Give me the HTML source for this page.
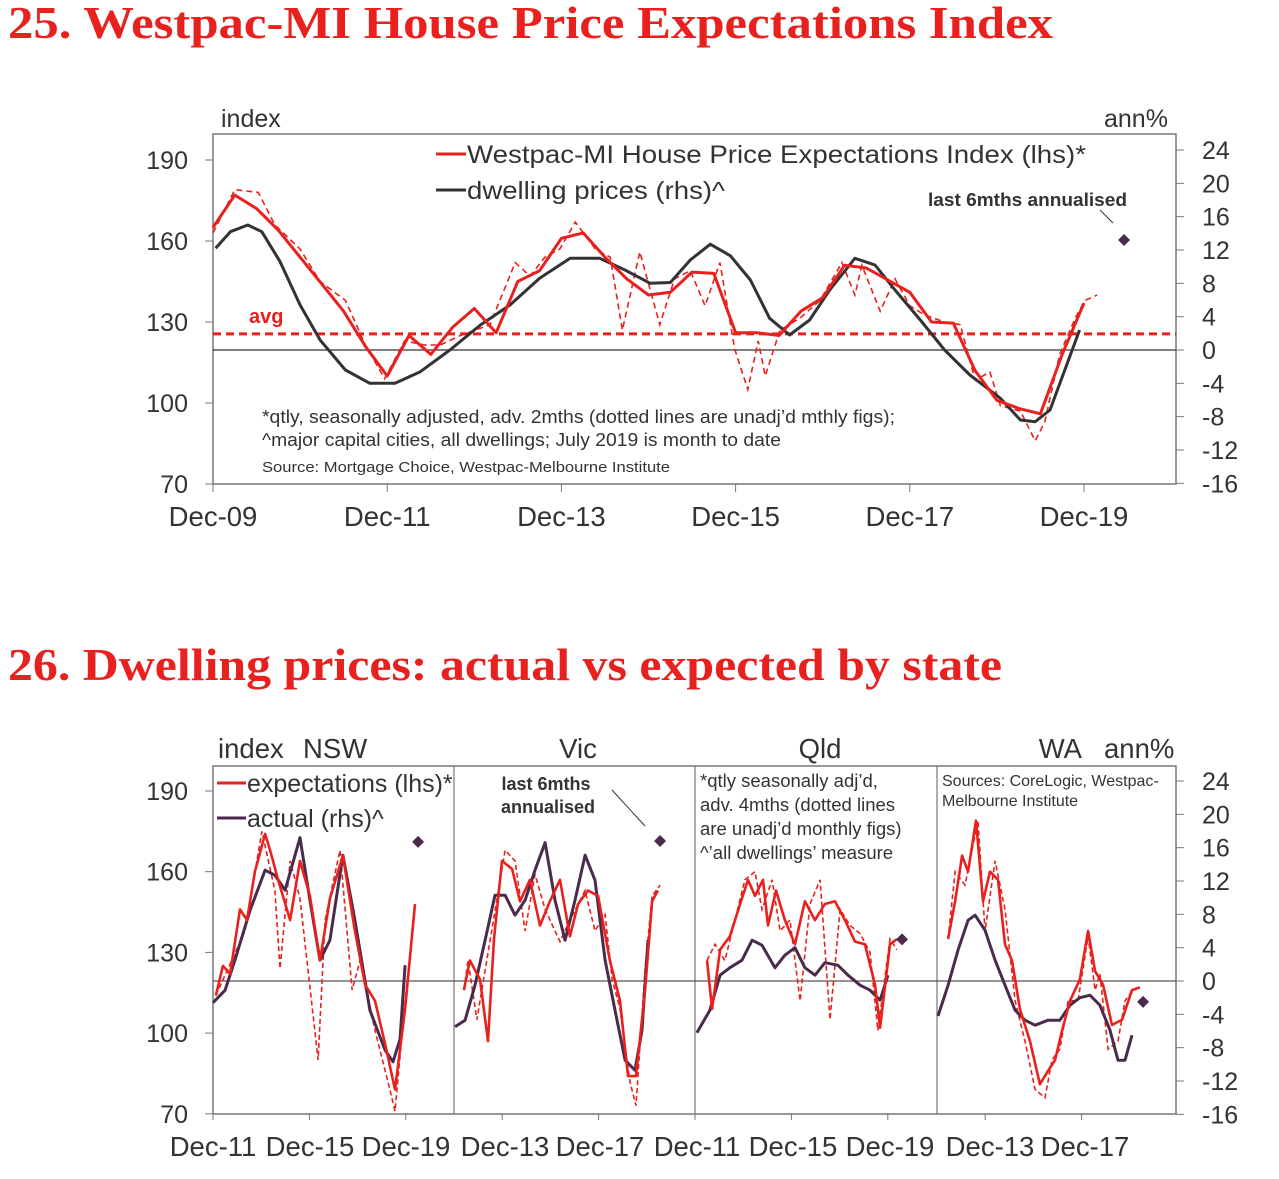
<!DOCTYPE html>
<html><head><meta charset="utf-8"><style>
html,body{margin:0;padding:0;background:#fff;}
svg{display:block;font-family:"Liberation Sans",sans-serif;}
.ttl{font-family:"Liberation Serif",serif;font-weight:bold;fill:#e8211e;font-size:46px;}
.ax{font-size:25px;fill:#333;}
.xl{font-size:27.5px;fill:#333;}
</style></head><body>
<svg id="s" width="1279" height="1179" viewBox="0 0 1279 1179">
<text class="ttl" x="8" y="38" textLength="1045" lengthAdjust="spacingAndGlyphs">25. Westpac-MI House Price Expectations Index</text>
<text class="ttl" x="8" y="680" textLength="994" lengthAdjust="spacingAndGlyphs">26. Dwelling prices: actual vs expected by state</text>
<g id="c1"></g>
<g id="c2"></g>
</svg>
<script>
// ---------- Chart 25 data (time = years since Dec-09) ----------
const c1XLabels=["Dec-09","Dec-11","Dec-13","Dec-15","Dec-17","Dec-19"];
const c1LeftTicks=[70,100,130,160,190];
const c1RightTicks=[-16,-12,-8,-4,0,4,8,12,16,20,24];
const idxT=[0,.25,.5,.75,1,1.25,1.5,1.75,2,2.25,2.5,2.75,3,3.25,3.5,3.75,4,4.25,4.5,4.75,5,5.25,5.5,5.75,6,6.25,6.5,6.75,7,7.25,7.5,7.75,8,8.25,8.5,8.75,9,9.25,9.5,9.75,10];
const idxV=[165,177,172,164,154,144,134,121,110,125,118,128,135,126,145,149,161,163,154,146,140,141,148.5,148,126,126,125,134,139,151,150,145.5,141,130,129.6,112,101,98,96,118,137];
const idxMT=[0,.25,.52,.71,1,1.23,1.52,1.75,1.97,2.2,2.43,2.61,2.84,3.18,3.47,3.64,3.81,3.98,4.16,4.39,4.56,4.7,4.9,5.13,5.3,5.48,5.65,5.82,5.99,6.14,6.26,6.34,6.51,6.74,6.97,7.22,7.37,7.45,7.66,7.83,8,8.17,8.4,8.58,8.75,8.92,9.04,9.27,9.44,9.55,9.72,9.9,10.01,10.15];
const idxMV=[163,179,178,166,157,145,138,121.5,109,123,121.5,121.5,125,129,152,147,154,157,167,157,154,127,156,129,146,149,136,152,120,105,123,110,127,131.5,138,152,140,151,134,146,136,132.6,130,129,108.5,111.5,99,97,86,93,118,131.5,138,140];
const dpT=[.03,.2,.4,.56,.77,1,1.23,1.52,1.8,2.09,2.38,2.72,3.07,3.41,3.75,4.1,4.44,4.73,5.02,5.25,5.48,5.71,5.94,6.17,6.39,6.62,6.85,7.08,7.37,7.6,7.83,8.12,8.4,8.69,9.04,9.27,9.44,9.61,9.78,9.95];
const dpV=[12.2,14.2,15,14.2,10.6,5.4,1.2,-2.4,-4,-4,-2.6,0,3,5.4,8.6,11,11,9.6,8,8.1,10.8,12.7,11.3,8.4,3.8,1.8,3.6,7.2,11,10.2,7.2,3.6,0,-3,-5.8,-8.4,-8.6,-7.2,-2.4,2.4];
const avgIdx=[125.6];
const last6T=[10.46], last6V=[13.2];

// ---------- Chart 26 data (time = years since Dec-11 within each panel) ----------
const states=["NSW","Vic","Qld","WA"];
const c2XLabels=[["Dec-11","Dec-15","Dec-19"],["Dec-13","Dec-17"],["Dec-11","Dec-15","Dec-19"],["Dec-13","Dec-17"]];
const c2XLabelT=[[0,4,8],[2,6],[0,4,8],[2,6]];
const expT=[
[.12,.41,.71,1.12,1.41,1.74,2.16,2.37,2.7,3.2,3.61,4.02,4.44,4.85,5.39,5.89,6.31,6.72,7.14,7.55,7.97,8.38],
[.41,.66,1.08,1.41,1.66,1.99,2.41,2.74,3.15,3.57,3.98,4.4,4.81,5.15,5.56,5.98,6.47,6.89,7.22,7.55,7.93,8.22,8.46],
[.5,.71,1.04,1.45,1.87,2.2,2.49,2.82,3.03,3.36,3.73,4.15,4.56,4.98,5.39,5.81,6.22,6.64,7.05,7.47,7.68,8.09,8.38],
[.46,.75,1.04,1.29,1.62,1.91,2.2,2.53,2.82,3.11,3.44,3.86,4.27,4.61,4.9,5.19,5.52,5.93,6.27,6.56,6.89,7.26,7.68,8.09,8.42]];
const expV=[
[114,125,122,146,142,160,174,168,157,142,164,151,127,150,166,138,118,112,96,79,109,148],
[116,127,120,97,135,164,161,149,157,140,149,157,136,148,153,151,127,112,84,84,116,149,153],
[127,109,131,136,148,157,151,157,140,153,142,133,149,142,148,149,142,134,133,118,102,133,135],
[135,149,166,160,179,149,160,157,133,127,109,97,81,86,90,101,112,120,138,123,118,103,105,116,117]];
const expMT=[
[.12,1.33,2.03,2.57,2.78,3.2,3.61,4.36,4.65,5.27,5.77,6.1,6.72,7.34,7.55,7.97,8.38],
[.41,.58,.95,2.12,2.53,2.95,3.36,3.78,4.4,4.81,5.44,5.85,6.27,6.56,6.89,7.3,7.55,7.93,8.22,8.55],
[.5,.83,1.24,2.07,2.49,2.78,3.2,3.53,3.94,4.36,4.77,5.19,5.6,6.02,6.43,6.85,7.26,7.59,8.09,8.38],
[.46,.75,1.16,1.7,1.99,2.41,2.82,3.24,3.65,4.07,4.48,4.77,5.1,5.44,5.85,6.27,6.56,6.76,7.1,7.51,7.8,8.13]];
const expMV=[
[114,138,175,153,124,164,150,90,142,168,116,127,101,79,71,112,146],
[116,127,105,168,164,138,159,146,134,142,153,138,144,120,109,82,73,124,151,155],
[127,133,127,157,160,146,157,138,142,112,148,157,105,146,140,137,130,101,135,131],
[135,160,155,179,138,164,146,112,97,79,76,90,94,112,112,136,116,122,94,97,112,116]];
const actT=[
[0,.5,.91,1.54,2.16,2.57,2.99,3.61,4.02,4.44,4.85,5.39,5.89,6.51,7.14,7.47,7.76,7.97],
[.04,.46,.87,1.29,1.7,2.12,2.53,2.95,3.36,3.78,4.19,4.61,5.02,5.44,5.85,6.27,6.68,7.1,7.51,7.8,8.05],
[.08,.62,1.04,1.45,1.95,2.37,2.78,3.32,3.73,4.15,4.56,4.98,5.39,5.93,6.35,6.85,7.26,7.68,8.01],
[.04,.46,.87,1.29,1.58,1.99,2.41,2.82,3.24,3.65,4.07,4.61,5.1,5.52,5.93,6.35,6.76,7.18,7.51,7.8,8.09]];
const actV=[
[-2.6,-1.1,2.5,8.5,13.3,12.7,10.9,17.2,9.7,2.5,4.9,15.1,7.3,-3.5,-8.3,-9.7,-7,1.9],
[-5.5,-4.7,-.5,4.9,10.3,10.3,7.9,9.7,13.3,16.6,9.7,4.9,9.7,15.1,12.1,2.5,-3.5,-9.5,-10.7,-5.9,4.9],
[-6.2,-3.5,.7,1.6,2.5,4.9,4.3,1.6,3.1,4,1.6,.7,2.2,1.9,.7,-.5,-1.1,-2.3,.7],
[-4.2,-.5,3.7,7.3,7.9,6.1,2.5,-.5,-3.5,-4.7,-5.3,-4.7,-4.7,-2.9,-2,-1.7,-2.9,-5.9,-9.5,-9.5,-6.5]];
const diaT=[8.51,8.55,8.59,8.55], diaV=[16.7,16.8,5.0,-2.5];
const c2LeftTicks=[70,100,130,160,190];
const c2RightTicks=[-16,-12,-8,-4,0,4,8,12,16,20,24];

const NS="http://www.w3.org/2000/svg";
const RED="#e8211e", PUR="#4b2b4b";
function mk(p,tag,a,txt){const e=document.createElementNS(NS,tag);for(const k in a)e.setAttribute(k,a[k]);if(txt!==undefined)e.textContent=txt;p.appendChild(e);return e;}
function pathD(ts,vs,fx,fy){return ts.map((t,i)=>(i?"L":"M")+fx(t).toFixed(1)+","+fy(vs[i]).toFixed(1)).join("");}

// ---------- Chart 25 ----------
(function(){
const g=document.getElementById('c1');
const L=213,R=1176,T=134,B=484;
const x=t=>L+t*87.1;
const yl=v=>160+(190-v)*2.7;
const yr=v=>350-v*8.333;
let e;
e=mk(g,'rect',{x:L,y:T,width:R-L,height:B-T,fill:'none',stroke:'#777','stroke-width':1.5});

c1LeftTicks.forEach(v=>{mk(g,'line',{x1:L-8,x2:L,y1:yl(v),y2:yl(v),stroke:'#777'});
 e=mk(g,'text',{x:L-25,y:yl(v)+9,'text-anchor':'end',class:'ax'},v);
 });
c1RightTicks.forEach(v=>{mk(g,'line',{x1:R,x2:R+8,y1:yr(v),y2:yr(v),stroke:'#777'});
 e=mk(g,'text',{x:R+26,y:yr(v)+9,class:'ax'},v);
 });
c1XLabels.forEach((s,i)=>{const xx=x(i*2);mk(g,'line',{x1:xx,x2:xx,y1:B,y2:B+8,stroke:'#777'});
 e=mk(g,'text',{x:xx,y:B+42,'text-anchor':'middle',class:'xl'},s);
 });
e=mk(g,'text',{x:221,y:127,class:'ax'},'index');
e=mk(g,'text',{x:1104,y:127,class:'ax'},'ann%');
e=mk(g,'line',{x1:L,x2:R,y1:yr(0),y2:yr(0),stroke:'#333','stroke-width':1.3});
e=mk(g,'line',{x1:L,x2:R,y1:yl(avgIdx[0]),y2:yl(avgIdx[0]),stroke:RED,'stroke-width':3,'stroke-dasharray':'8,5'});
e=mk(g,'text',{x:249,y:323,fill:RED,'font-size':20,'font-weight':'bold'},'avg');
e=mk(g,'path',{d:pathD(idxMT,idxMV,x,yl),fill:'none',stroke:RED,'stroke-width':1.6,'stroke-dasharray':'6,4'});
e=mk(g,'path',{d:pathD(dpT,dpV,x,yr),fill:'none',stroke:'#333','stroke-width':3,'stroke-linejoin':'round'});
e=mk(g,'path',{d:pathD(idxT,idxV,x,yl),fill:'none',stroke:RED,'stroke-width':3,'stroke-linejoin':'round'});
const dx=x(last6T[0]),dy=yr(last6V[0]);
e=mk(g,'path',{d:`M${dx},${dy-6}L${dx+6},${dy}L${dx},${dy+6}L${dx-6},${dy}Z`,fill:PUR});
e=mk(g,'text',{x:928,y:206,'font-size':18,'font-weight':'bold',fill:'#333',textLength:199,lengthAdjust:'spacingAndGlyphs'},'last 6mths annualised');
mk(g,'line',{x1:1100,y1:210,x2:1113,y2:223,stroke:'#333'});
e=mk(g,'line',{x1:436,x2:466,y1:154,y2:154,stroke:RED,'stroke-width':3});
e=mk(g,'text',{x:467,y:163,class:'ax',textLength:619,lengthAdjust:'spacingAndGlyphs'},'Westpac-MI House Price Expectations Index (lhs)*');
e=mk(g,'line',{x1:436,x2:466,y1:190,y2:190,stroke:'#333','stroke-width':3});
e=mk(g,'text',{x:467,y:199,class:'ax',textLength:258,lengthAdjust:'spacingAndGlyphs'},'dwelling prices (rhs)^');
e=mk(g,'text',{x:262,y:423,'font-size':18,fill:'#333',textLength:633,lengthAdjust:'spacingAndGlyphs'},'*qtly, seasonally adjusted, adv. 2mths (dotted lines are unadj\u2019d mthly figs);');
e=mk(g,'text',{x:262,y:446,'font-size':18,fill:'#333',textLength:519,lengthAdjust:'spacingAndGlyphs'},'^major capital cities, all dwellings; July 2019 is month to date');
e=mk(g,'text',{x:262,y:472,'font-size':15,fill:'#333',textLength:408,lengthAdjust:'spacingAndGlyphs'},'Source: Mortgage Choice, Westpac-Melbourne Institute');
})();

// ---------- Chart 26 ----------
(function(){
const g=document.getElementById('c2');
const L=213,R=1176,T=766,B=1114;
const px=[213,454,695,937];
const pxPerYr=24.1;
const yl=v=>791+(190-v)*2.69;
const yr=v=>981-v*8.333;
let e;
e=mk(g,'rect',{x:L,y:T,width:R-L,height:B-T,fill:'none',stroke:'#777','stroke-width':1.5});
[454,695,937].forEach(xx=>{e=mk(g,'line',{x1:xx,x2:xx,y1:T,y2:B,stroke:'#777','stroke-width':1.2});});
c2LeftTicks.forEach(v=>{mk(g,'line',{x1:L-8,x2:L,y1:yl(v),y2:yl(v),stroke:'#777'});
 e=mk(g,'text',{x:L-25,y:yl(v)+9,'text-anchor':'end',class:'ax'},v);});
c2RightTicks.forEach(v=>{mk(g,'line',{x1:R,x2:R+8,y1:yr(v),y2:yr(v),stroke:'#777'});
 e=mk(g,'text',{x:R+26,y:yr(v)+9,class:'ax'},v);});
e=mk(g,'line',{x1:L,x2:R,y1:yr(0),y2:yr(0),stroke:'#555','stroke-width':1.2});
const lblX=[[213,310,406],[505,600],[697,793,890],[990,1085]];
states.forEach((st,p)=>{
 const x=t=>px[p]+t*pxPerYr;
 c2XLabels[p].forEach((s,i)=>{const xx=x(c2XLabelT[p][i]);mk(g,'line',{x1:xx,x2:xx,y1:B,y2:B+6,stroke:'#777'});
  e=mk(g,'text',{x:lblX[p][i],y:B+42,'text-anchor':'middle',class:'xl'},s);});
 e=mk(g,'path',{d:pathD(expMT[p],expMV[p],x,yl),fill:'none',stroke:RED,'stroke-width':1.6,'stroke-dasharray':'5,3'});
 e=mk(g,'path',{d:pathD(actT[p],actV[p],x,yr),fill:'none',stroke:PUR,'stroke-width':3,'stroke-linejoin':'round'});
 e=mk(g,'path',{d:pathD(expT[p],expV[p],x,yl),fill:'none',stroke:RED,'stroke-width':2.6,'stroke-linejoin':'round'});
 const dx=x(diaT[p]),dy=yr(diaV[p]);
 e=mk(g,'path',{d:`M${dx},${dy-6}L${dx+6},${dy}L${dx},${dy+6}L${dx-6},${dy}Z`,fill:PUR});
});
const tx=[[218,'index','start'],[303,'NSW','start'],[578,'Vic','middle'],[820,'Qld','middle'],[1082,'WA','end'],[1104,'ann%','start']];
tx.forEach(a=>{e=mk(g,'text',{x:a[0],y:758,'text-anchor':a[2],class:'xl'},a[1]);});
e=mk(g,'line',{x1:217,x2:246,y1:783,y2:783,stroke:RED,'stroke-width':3});
e=mk(g,'text',{x:247,y:792,class:'ax'},'expectations (lhs)*');
e=mk(g,'line',{x1:217,x2:246,y1:818,y2:818,stroke:PUR,'stroke-width':3});
e=mk(g,'text',{x:247,y:827,class:'ax'},'actual (rhs)^');
e=mk(g,'text',{x:546,y:790,'text-anchor':'middle','font-size':18,'font-weight':'bold',fill:'#333'},'last 6mths');
e=mk(g,'text',{x:548,y:813,'text-anchor':'middle','font-size':18,'font-weight':'bold',fill:'#333'},'annualised');
mk(g,'line',{x1:612,y1:790,x2:645,y2:826,stroke:'#333'});
['*qtly seasonally adj\u2019d,','adv. 4mths (dotted lines','are unadj\u2019d monthly figs)','^\u2019all dwellings\u2019 measure'].forEach((s,i)=>{
 e=mk(g,'text',{x:700,y:787+i*24,'font-size':18.5,fill:'#333'},s);});
['Sources: CoreLogic, Westpac-','Melbourne Institute'].forEach((s,i)=>{
 e=mk(g,'text',{x:942,y:786+i*20,'font-size':16,fill:'#333'},s);});
})();
</script>
</body></html>
